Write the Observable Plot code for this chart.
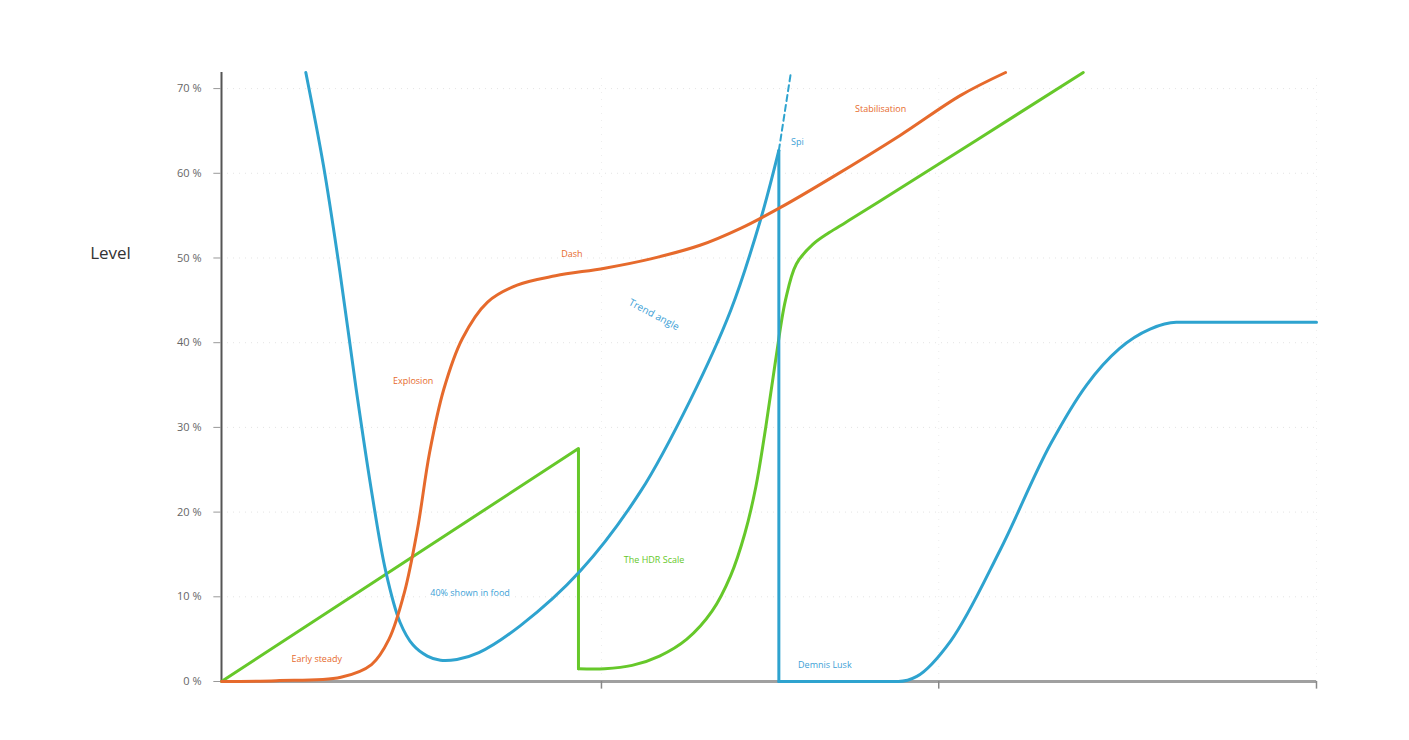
<!DOCTYPE html>
<html><head><meta charset="utf-8">
<script src="https://cdn.jsdelivr.net/npm/d3@7"></script>
<script src="https://cdn.jsdelivr.net/npm/@observablehq/plot@0.6"></script>
<style>
body{margin:0;background:#fff;font-family:"Open Sans","DejaVu Sans",sans-serif;}
</style></head><body><div id="chart"></div>
<script>
const yTicks = [0,10,20,30,40,50,60,70];
const xTicks = [34.7, 65.5, 100];
// orange curve
const orangeX = [0,5,10.9,13.7,15.3,16.7,17.9,19.0,20.3,22.0,24.3,27.0,30.5,35.0,39.2,43.7,47.4,51.1,55.6,62.0,67.5,71.6];
const orangeY = [0,0.1,0.5,2.0,5.0,10.5,18.0,27.0,34.5,40.5,44.8,46.8,47.9,48.8,49.9,51.5,53.5,56.0,59.4,64.5,69.2,71.9];
// blue bowl curve
const blueAX = [7.7,9.3,10.8,12.3,13.7,15.0,16.3,17.5,18.8,20.0,21.5,23.5,27.3,32.8,38.3,42.8,46.5,49.2,50.9];
const blueAY = [71.9,61.0,48.5,34.5,22.5,13.0,7.0,4.3,3.0,2.5,2.6,3.4,6.6,13.1,22.5,33.2,43.8,54.4,62.7];
const blueDashX = [50.9,52.0];
const blueDashY = [62.7,71.9];
const blueDropX = [50.9,50.9];
const blueDropY = [62.7,0];
// blue plateau curve
const blueBX = [50.9,56,61.8,63.5,66.6,71.1,75.7,79.0,82.0,84.8,87.2,90,100];
const blueBY = [0,0,0,0.6,4.8,15.5,28.0,35.0,39.3,41.6,42.4,42.4,42.4];
// green
const greenLinX = [0,32.6,32.6];
const greenLinY = [0,27.5,1.5];
const greenCX = [32.6,35.0,37.5,40.0,42.5,44.8,46.5,47.8,48.8,49.7,50.6,51.5,52.5,54.0,55.5,57.0,60.0,78.7];
const greenCY = [1.5,1.5,1.9,3.0,5.0,8.3,12.5,17.5,23.0,30.0,37.9,45.0,49.3,51.6,53.0,54.2,56.6,71.9];
// labels
const labelText = ["Early steady","Explosion","Dash","Stabilisation","40% shown in food","Demnis Lusk","Spi","The HDR Scale"];
const labelX = [8.7,17.5,32.0,60.2,22.7,55.1,52.6,39.5];
const labelY = [2.7,35.5,50.4,67.6,10.4,1.9,63.7,14.3];
const labelColor = ["#e66a2c","#e66a2c","#e66a2c","#e66a2c","#3d9fd6","#3d9fd6","#3d9fd6","#66c82a"];

const pts = (xs, ys) => xs.map((x,i)=>({x, y: ys[i]}));
const labels = labelText.map((t,i)=>({t, x: labelX[i], y: labelY[i], c: labelColor[i]}));
const ORANGE="#e66a2c", BLUE="#2ea3cf", GREEN="#66c82a";

const chart = Plot.plot({
  width: 1409, height: 740,
  marginLeft: 221, marginRight: 93, marginTop: 72, marginBottom: 59,
  style: {fontFamily: '"Open Sans","DejaVu Sans",sans-serif', background: "#fff"},
  x: {type:"linear", domain: [0,100], axis: null},
  y: {type:"linear", domain: [0,71.9], axis: null},
  marks: [
    Plot.ruleY(yTicks.filter(d=>d>0), {x1:0, x2:100, stroke:"#e4e4e4", strokeDasharray:"1,5"}),
    Plot.ruleX(xTicks, {y1:0, y2:71.9, stroke:"#eeeeee", strokeDasharray:"1,6"}),
    Plot.ruleY([0], {x1:0, x2:100, stroke:"#a0a0a0", strokeWidth:3}),
    Plot.ruleX(xTicks, {y1:0, y2:-0.9, stroke:"#888", strokeWidth:1.5, clip:false}),
    Plot.ruleX([0], {y1:0, y2:71.9, stroke:"#555", strokeWidth:2}),
    Plot.ruleY(yTicks, {x1:-0.7, x2:0, stroke:"#999"}),
    Plot.text(yTicks, {x:0, y:d=>d, text:d=>`${d} %`, dx:-20, textAnchor:"end", fontSize:11, fill:"#666"}),
    Plot.line(pts(greenLinX, greenLinY), {x:"x", y:"y", stroke:GREEN, strokeWidth:3}),
    Plot.line(pts(greenCX, greenCY), {x:"x", y:"y", stroke:GREEN, strokeWidth:3, curve:"catmull-rom"}),
    Plot.line(pts(blueDropX, blueDropY), {x:"x", y:"y", stroke:BLUE, strokeWidth:3}),
    Plot.line(pts(blueDashX, blueDashY), {x:"x", y:"y", stroke:BLUE, strokeWidth:2, strokeDasharray:"6,4"}),
    Plot.line(pts(blueAX, blueAY), {x:"x", y:"y", stroke:BLUE, strokeWidth:3, curve:"catmull-rom"}),
    Plot.line(pts(blueBX, blueBY), {x:"x", y:"y", stroke:BLUE, strokeWidth:3, curve:"monotone-x"}),
    Plot.line(pts(orangeX, orangeY), {x:"x", y:"y", stroke:ORANGE, strokeWidth:3, curve:"catmull-rom"}),
    Plot.text(labels, {x:"x", y:"y", text:"t", fill:"c", fontSize:9}),
    Plot.text(["Trend angle"], {x:[39.5], y:[43.3], text:d=>d, rotate:28, fill:"#3d9fd6", fontSize:10}),
    Plot.text(["Level"], {x:[0], y:[50.5], dx:-111, text:d=>d, fontSize:17, fill:"#333"})
  ]
});
document.getElementById("chart").appendChild(chart);
</script></body></html>
